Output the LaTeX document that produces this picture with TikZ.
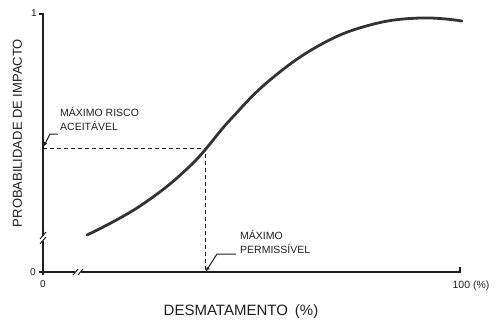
\documentclass[tikz,border=0pt]{standalone}
\usepackage{fontspec}
\setmainfont{Liberation Sans}
\usetikzlibrary{arrows.meta}
\definecolor{axc}{gray}{0.12}
\definecolor{cvc}{gray}{0.2}
\begin{document}
\begin{tikzpicture}[x=1pt,y=-1pt,
  axis/.style={line width=1.4pt, draw=axc},
  brk/.style={line width=1pt, draw=axc},
  curve/.style={line width=2.8pt, draw=cvc, line cap=round},
  guide/.style={dash pattern=on 4pt off 3pt, line width=0.9pt, draw=axc},
  leader/.style={line width=1pt, draw=axc, -{Latex[length=5pt,width=3.5pt]}},
  lbl/.style={font=\fontsize{10.5}{13.5}\selectfont, align=left, inner sep=0pt, anchor=north west, text=axc},
  num/.style={font=\fontsize{10}{12}\selectfont, inner sep=0pt, text=axc}]
\useasboundingbox (0,0) rectangle (496,322);
% key points
\coordinate (o) at (43,272);
\coordinate (ytop) at (43,14);
\coordinate (ytick) at (39,14);
\coordinate (xend) at (460,272);
\coordinate (xtick) at (460,267);
\coordinate (p) at (205,148);
\coordinate (py) at (43,148);
\coordinate (px) at (205,272);
% y axis
\draw[axis] (ytick) -- (ytop) -- (43,236);
\draw[axis] (43,241) -- (43,275);
\draw[brk] (40,239) -- (46,232);
\draw[brk] (40,244) -- (46,237);
% x axis
\draw[axis] (39,272) -- (75,272);
\draw[axis] (81,272) -- (xend) -- (xtick);
\draw[brk] (73,275) -- (78,269);
\draw[brk] (78,275) -- (83,269);
% guides
\draw[guide] (py) -- (p) -- (px);
% curve
\draw[curve] plot[smooth, tension=0.7] coordinates {(87,235) (140,206) (190,166) (230,120) (270,80) (320,45) (370,25) (420,18) (462,21)};
% labels
\node[lbl] (risco) at (60,107.5) {MÁXIMO RISCO\\ACEITÁVEL};
\node[lbl] (perm) at (240,230.5) {MÁXIMO\\PERMISSÍVEL};
\coordinate (l1a) at (58,134);
\coordinate (l1b) at (50,134);
\coordinate (l1c) at (43.5,147);
\draw[leader] (l1a) -- (l1b) -- (l1c);
\coordinate (l2a) at (236,254);
\coordinate (l2b) at (217,254);
\coordinate (l2c) at (205.5,272);
\draw[leader] (l2a) -- (l2b) -- (l2c);
% ticks labels
\node[num] (one) at (34,13) {1};
\node[num] (zy) at (33,272) {0};
\node[num] (zx) at (43,284) {0};
\node[num, font=\fontsize{10.5}{12}\selectfont] (hund) at (471,286) {100\hspace{3pt}(\%)};
% axis titles
\node[rotate=90, font=\fontsize{13}{15}\selectfont, text=axc, inner sep=0pt] (ylab) at (17.5,133) {PROBABILIDADE DE IMPACTO};
\node[font=\fontsize{15}{17}\selectfont, text=axc, inner sep=0pt] (xlab) at (241,311.5) {DESMATAMENTO\hspace{7pt}(\%)};
\end{tikzpicture}
\end{document}
